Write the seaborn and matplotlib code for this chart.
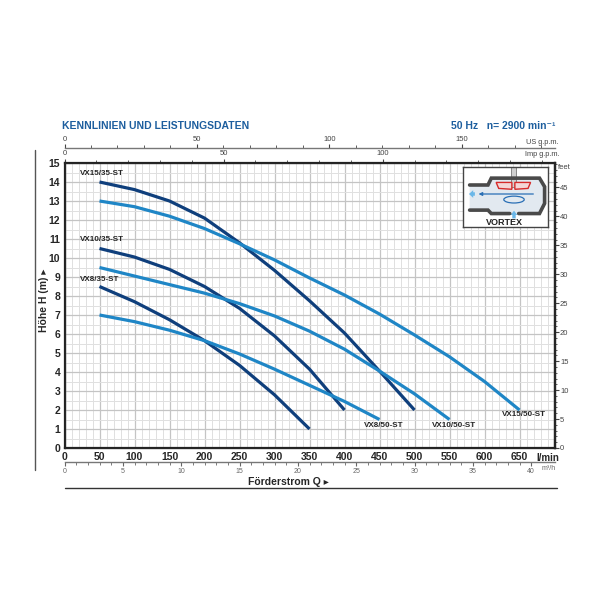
import numpy as np
import pandas as pd
import matplotlib
matplotlib.use("Agg")
import matplotlib.pyplot as plt
import matplotlib.patches as mpatches
from matplotlib.ticker import MultipleLocator, FixedLocator
import seaborn as sns

# curves (Q in l/min, H in m)
q_vx15_35 = [50, 100, 150, 200, 250, 300, 350, 400, 450, 500]
h_vx15_35 = [14.0, 13.6, 13.0, 12.1, 10.8, 9.35, 7.75, 6.05, 4.05, 2.0]
q_vx15_50 = [50, 100, 150, 200, 250, 300, 350, 400, 450, 500, 550, 600, 650]
h_vx15_50 = [13.0, 12.7, 12.2, 11.55, 10.75, 9.9, 8.95, 8.05, 7.05, 5.95, 4.8, 3.5, 2.0]
q_vx10_35 = [50, 100, 150, 200, 250, 300, 350, 400]
h_vx10_35 = [10.5, 10.05, 9.4, 8.5, 7.35, 5.9, 4.15, 2.0]
q_vx10_50 = [50, 100, 150, 200, 250, 300, 350, 400, 450, 500, 550]
h_vx10_50 = [9.5, 9.05, 8.6, 8.15, 7.6, 6.95, 6.15, 5.2, 4.05, 2.85, 1.5]
q_vx8_35 = [50, 100, 150, 200, 250, 300, 350]
h_vx8_35 = [8.5, 7.7, 6.75, 5.65, 4.35, 2.8, 1.0]
q_vx8_50 = [50, 100, 150, 200, 250, 300, 350, 400, 450]
h_vx8_50 = [7.0, 6.65, 6.2, 5.65, 4.95, 4.15, 3.3, 2.45, 1.5]

pumps = ["VX15/35-ST", "VX15/50-ST", "VX10/35-ST", "VX10/50-ST", "VX8/35-ST", "VX8/50-ST"]
q_lists = [q_vx15_35, q_vx15_50, q_vx10_35, q_vx10_50, q_vx8_35, q_vx8_50]
h_lists = [h_vx15_35, h_vx15_50, h_vx10_35, h_vx10_50, h_vx8_35, h_vx8_50]

x_ticks = list(range(0, 700, 50))
y_ticks = list(range(0, 16))
m3h_ticks = [0, 5, 10, 15, 20, 25, 30, 35, 40]
usgpm_ticks = [0, 50, 100, 150]
impgpm_ticks = [0, 50, 100]

DARK = "#0f3f7c"
LIGHT = "#1f86c6"
TITLE_BLUE = "#1d5e9e"
GREY_TXT = "#444444"

rows = []
for name, qs, hs in zip(pumps, q_lists, h_lists):
    for q, h in zip(qs, hs):
        rows.append({"pump": name, "Q": q, "H": h})
df = pd.DataFrame(rows)
palette = {p: (DARK if "/35" in p else LIGHT) for p in pumps}

sns.set_style("white")
plt.rcParams["font.family"] = ["Liberation Sans", "DejaVu Sans"]

fig = plt.figure(figsize=(6, 6), dpi=100)
L, R, T, B = 64.5, 554.5, 163, 448
ax = fig.add_axes([L / 600, 1 - B / 600, (R - L) / 600, (B - T) / 600])

sns.lineplot(data=df, x="Q", y="H", hue="pump", palette=palette, ax=ax,
             legend=False, linewidth=2.3, sort=False, estimator=None, zorder=3)
for line in ax.get_lines():
    line.set_solid_joinstyle("round")
    line.set_solid_capstyle("butt")

QMAX = 700
ax.set_xlim(0, QMAX)
ax.set_ylim(0, 15)
ax.set_xticks(x_ticks)
ax.set_yticks(y_ticks)
ax.xaxis.set_minor_locator(MultipleLocator(10))
ax.yaxis.set_minor_locator(MultipleLocator(0.5))
ax.grid(which="major", color="#c4c4c4", lw=0.9, zorder=0)
ax.grid(which="minor", color="#e0e0e0", lw=0.7, zorder=0)
ax.set_axisbelow(True)
for s in ax.spines.values():
    s.set_color("#222222")
    s.set_linewidth(1.6)
ax.tick_params(axis="both", which="both", length=0, labelsize=7.5, pad=3)
for lbl in ax.get_xticklabels() + ax.get_yticklabels():
    lbl.set_fontweight("bold")
ax.set_xlabel("")
ax.set_ylabel("")

# curve labels
for name, h in [("VX15/35-ST", 14.45), ("VX10/35-ST", 10.95), ("VX8/35-ST", 8.85)]:
    ax.text(22, h, name, fontsize=5.8, fontweight="bold", ha="left", va="center", zorder=4)
for name, q, h in [("VX8/50-ST", 456, 1.2), ("VX10/50-ST", 556, 1.2), ("VX15/50-ST", 656, 1.77)]:
    ax.text(q, h, name, fontsize=5.8, fontweight="bold", ha="center", va="center", zorder=4)

ax.text(690, -0.28, "l/min", fontsize=7, fontweight="bold", ha="center", va="top")

# right axis: feet
axr = ax.twinx()
axr.set_ylim(0, 15 * 3.28084)
axr.yaxis.set_major_locator(MultipleLocator(5))
axr.yaxis.set_minor_locator(MultipleLocator(1))
axr.tick_params(axis="y", which="major", length=3, labelsize=5.5, colors=GREY_TXT, pad=1)
axr.tick_params(axis="y", which="minor", length=1.5, colors=GREY_TXT)
axr.spines["right"].set_linewidth(1.6)
axr.grid(False)
axr.text(1.008, 0.985, "feet", transform=ax.transAxes, fontsize=5.5, color=GREY_TXT,
         ha="left", va="center")

# top axis: Imp g.p.m.
imp = ax.secondary_xaxis("top", functions=(lambda q: q / 4.546, lambda g: g * 4.546))
imp.set_xticks(impgpm_ticks)
imp.xaxis.set_minor_locator(MultipleLocator(10))
imp.tick_params(which="major", length=3, labelsize=5.5, colors=GREY_TXT, pad=1)
imp.tick_params(which="minor", length=2, colors=GREY_TXT)
imp.spines["top"].set_visible(False)
fig.text(542 / 600, 1 - 155 / 600, "Imp g.p.m.", fontsize=5.3, color=GREY_TXT,
         ha="center", va="center")

# top axis: US g.p.m. (separate line above)
axus = fig.add_axes([L / 600, 1 - 149 / 600, (R - L) / 600, 0.001])
axus.set_xlim(0, QMAX / 3.785)
axus.set_xticks(usgpm_ticks)
axus.xaxis.set_minor_locator(MultipleLocator(10))
axus.xaxis.tick_top()
axus.set_yticks([])
for k in ["left", "right", "bottom"]:
    axus.spines[k].set_visible(False)
axus.spines["top"].set_color("#777777")
axus.spines["top"].set_linewidth(1.0)
axus.tick_params(axis="x", which="major", length=3, labelsize=5.5, colors=GREY_TXT, pad=1)
axus.tick_params(axis="x", which="minor", length=2, colors=GREY_TXT)
axus.patch.set_alpha(0)
fig.text(542 / 600, 1 - 143 / 600, "US g.p.m.", fontsize=5.3, color=GREY_TXT,
         ha="center", va="center")

# bottom axis: m3/h
m3h = ax.secondary_xaxis(-0.049, functions=(lambda q: q * 60 / 1000, lambda m: m * 1000 / 60))
m3h.set_xticks(m3h_ticks)
m3h.xaxis.set_minor_locator(FixedLocator(range(0, 41)))
m3h.tick_params(which="major", length=3, labelsize=5, colors="#666666", pad=1)
m3h.tick_params(which="minor", length=2, colors="#666666")
m3h.spines["bottom"].set_color("#777777")
m3h.spines["bottom"].set_linewidth(1.0)
fig.text(549 / 600, 1 - 468 / 600, "m³/h", fontsize=5, color="#666666", ha="center", va="center")

# axis titles
fig.text(44 / 600, 1 - 300 / 600, "Höhe H (m) ▸", rotation=90, fontsize=7.5,
         fontweight="bold", ha="center", va="center", family=["Liberation Sans", "DejaVu Sans"])
fig.text(288 / 600, 1 - 482 / 600, "Förderstrom Q ▸", fontsize=7.5, fontweight="bold",
         ha="center", va="center", family=["Liberation Sans", "DejaVu Sans"])
fig.add_artist(plt.Line2D([65 / 600, 557 / 600], [1 - 488 / 600, 1 - 488 / 600],
                          color="#333333", lw=1.0))
fig.add_artist(plt.Line2D([35 / 600, 35 / 600], [1 - 150 / 600, 1 - 470 / 600],
                          color="#555555", lw=1.0))

# header
fig.text(62 / 600, 1 - 126 / 600, "KENNLINIEN UND LEISTUNGSDATEN", fontsize=7.5,
         fontweight="bold", color=TITLE_BLUE, ha="left", va="center")
fig.text(555 / 600, 1 - 126 / 600, "50 Hz   n= 2900 min⁻¹", fontsize=7.5,
         fontweight="bold", color=TITLE_BLUE, ha="right", va="center")

# vortex inset
axv = fig.add_axes([463 / 600, 1 - 227 / 600, 85 / 600, 60 / 600])
axv.set_xlim(0, 100)
axv.set_ylim(0, 70)
axv.set_xticks([])
axv.set_yticks([])
axv.set_facecolor("white")
for s in axv.spines.values():
    s.set_color("#444444")
    s.set_linewidth(1.0)
body = [(7.8, 49), (29.4, 49), (33.3, 57), (90, 57), (96, 47), (96, 27.5), (90, 15.7),
        (33.3, 15.7), (29.4, 19.7), (7.8, 19.7)]
axv.add_patch(mpatches.Polygon(body, closed=True, facecolor="#e2e9f0", edgecolor="none"))
top_line = [(7.8, 49), (29.4, 49), (33.3, 57), (90, 57), (96, 47), (96, 27.5), (90, 15.7), (65.5, 15.7)]
bot_line = [(55, 15.7), (33.3, 15.7), (29.4, 19.7), (7.8, 19.7)]
for line in (top_line, bot_line):
    xs, ys = zip(*line)
    axv.plot(xs, ys, color="#4a4a4a", lw=2.6, solid_joinstyle="miter")
axv.add_patch(mpatches.Rectangle((56.5, 47), 5.5, 23, facecolor="#d0d0d0", edgecolor="#777777", lw=0.6))
axv.add_patch(mpatches.Polygon([(39, 52), (57.5, 52), (57.5, 44), (42, 45)], closed=True,
                               facecolor="#f4d6d6", edgecolor="#d62a2a", lw=1.0))
axv.add_patch(mpatches.Polygon([(61, 52), (79.5, 52), (76.5, 45), (61, 44)], closed=True,
                               facecolor="#f4d6d6", edgecolor="#d62a2a", lw=1.0))
axv.annotate("", xy=(15, 38.5), xytext=(86, 38.5),
             arrowprops=dict(arrowstyle="-|>", color="#2a6fb5", lw=0.9, mutation_scale=5))
axv.add_patch(mpatches.FancyArrow(14, 38.5, -7, 0, width=4, head_width=9, head_length=5,
                                  length_includes_head=True, color="#6bb7e8", lw=0))
axv.add_patch(mpatches.Ellipse((60, 32), 24, 8, fill=False, edgecolor="#2a6fb5", lw=0.9))
axv.add_patch(mpatches.FancyArrow(60, 10, 0, 9, width=4, head_width=8, head_length=5,
                                  length_includes_head=True, color="#6bb7e8", lw=0))
axv.text(49, 5.5, "VORTEX", fontsize=6.5, fontweight="bold", ha="center", va="center", color="#222222")

fig.savefig("out.png", dpi=100, facecolor="white")
